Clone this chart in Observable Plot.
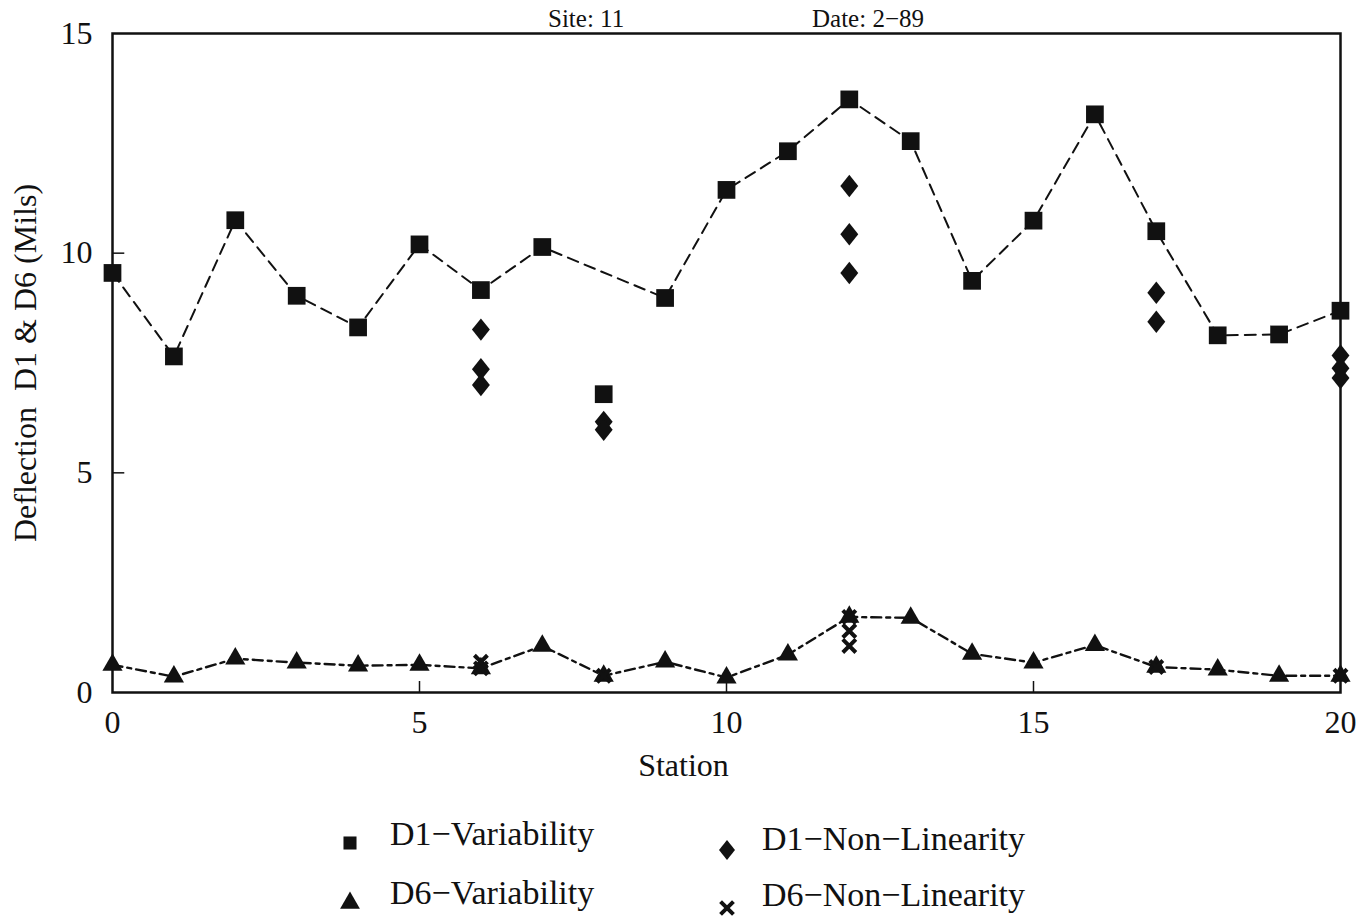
<!DOCTYPE html>
<html><head><meta charset="utf-8">
<script src="https://cdn.jsdelivr.net/npm/d3@7"></script>
<script src="https://cdn.jsdelivr.net/npm/@observablehq/plot@0.6"></script>
<style>
body{margin:0;background:#fff;}
#wrap{position:relative;width:1365px;height:919px;overflow:hidden;font-family:"Liberation Serif",serif;color:#111;}
#wrap svg{position:absolute;left:0;}
.ttl{position:absolute;top:5px;font-size:25px;line-height:1.1;white-space:nowrap;}
</style></head><body><div id="wrap"></div>
<script>
// ---- data ----
const stations = [0,1,2,3,4,5,6,7,8,9,10,11,12,13,14,15,16,17,18,19,20];
const d1Variability = [9.55,7.65,10.75,9.03,8.31,10.2,9.16,10.14,6.79,8.98,11.44,12.32,13.5,12.55,9.37,10.74,13.16,10.5,8.13,8.15,8.69];
const d1LineSkip = [8];            // station whose D1 point is not joined by the line
const d6Variability = [0.63,0.36,0.77,0.68,0.61,0.63,0.55,1.06,0.38,0.7,0.34,0.86,1.72,1.7,0.88,0.68,1.08,0.58,0.52,0.38,0.38];
const d1NonLinStation = [6,6,6,8,8,12,12,12,17,17,20,20,20];
const d1NonLinValue   = [8.26,7.36,7.0,6.16,5.98,11.53,10.43,9.55,9.1,8.44,7.67,7.38,7.16];
const d6NonLinStation = [6,6,8,12,12,12,17,20];
const d6NonLinValue   = [0.7,0.55,0.38,1.72,1.4,1.06,0.58,0.38];
const xTicks = [0,5,10,15,20];
const yTicks = [0,5,10,15];
const titleSite = "Site: 11";
const titleDate = "Date: 2\u221289";
const xLabel = "Station";
const yLabel = "Deflection\u00a0\u00a0D1 & D6 (Mils)";
const legendItems = [
  {label:"D1\u2212Variability", symbol:"square"},
  {label:"D1\u2212Non\u2212Linearity", symbol:"diamond"},
  {label:"D6\u2212Variability", symbol:"triangle"},
  {label:"D6\u2212Non\u2212Linearity", symbol:"times"}
];

// ---- tables ----
const d1Rows = stations.map((s,i)=>({station:s, value:d1Variability[i]}));
const d1LineRows = d1Rows.filter(d=>!d1LineSkip.includes(d.station));
const d6Rows = stations.map((s,i)=>({station:s, value:d6Variability[i]}));
const d1NL = d1NonLinStation.map((s,i)=>({station:s, value:d1NonLinValue[i]}));
const d6NL = d6NonLinStation.map((s,i)=>({station:s, value:d6NonLinValue[i]}));

// a rhombus a little wider than d3's diamond
const rhombus = {draw(ctx, size){ const b=Math.sqrt(size/1.6), a=0.8*b;
  ctx.moveTo(0,-b); ctx.lineTo(a,0); ctx.lineTo(0,b); ctx.lineTo(-a,0); ctx.closePath(); }};

const ink = "#111";
const chart = Plot.plot({
  width:1365, height:800,
  marginTop:33, marginBottom:108, marginLeft:112, marginRight:25,
  style:{fontFamily:"'Liberation Serif', serif", fontSize:"32px", color:ink, background:"transparent", overflow:"visible"},
  x:{domain:[0,20], label:null},
  y:{domain:[0,15], label:null},
  marks:[
    Plot.line(d1LineRows,{x:"station", y:"value", stroke:ink, strokeWidth:2, strokeDasharray:"11,7"}),
    Plot.line(d6Rows,{x:"station", y:"value", stroke:ink, strokeWidth:2.4, strokeDasharray:"10,5,4,5"}),
    Plot.ruleX(xTicks.slice(1,-1),{y1:0, y2:0.25, stroke:ink, strokeWidth:1.5}),
    Plot.ruleY(yTicks.slice(1,-1),{x1:0, x2:0.2, stroke:ink, strokeWidth:1.5}),
    Plot.frame({stroke:ink, strokeWidth:2.5}),
    Plot.axisX(xTicks,{tickSize:0, tickPadding:18, label:null, fontSize:32}),
    Plot.axisY(yTicks,{tickSize:0, tickPadding:20, label:null, fontSize:32}),
    Plot.text([xLabel],{text:d=>d, frameAnchor:"bottom", dx:-43, dy:83, fontSize:32}),
    Plot.text([yLabel],{text:d=>d, frameAnchor:"left", textAnchor:"middle", rotate:-90, dx:-87, fontSize:32}),
    Plot.dot(d6Rows,{x:"station", y:"value", symbol:"triangle", r:7.5, fill:ink}),
    Plot.dot(d1Rows,{x:"station", y:"value", symbol:"square", r:10, fill:ink}),
    Plot.dot(d1NL,{x:"station", y:"value", symbol:rhombus, r:8, fill:ink}),
    Plot.dot(d6NL,{x:"station", y:"value", symbol:"times", r:6, stroke:ink, strokeWidth:4})
  ]
});
chart.style.top = "0px";
const wrap = document.getElementById("wrap");
wrap.appendChild(chart);

// titles
[[titleSite,548],[titleDate,812]].forEach(([t,x])=>{
  const d=document.createElement("div"); d.className="ttl"; d.textContent=t; d.style.left=x+"px"; wrap.appendChild(d);
});

// legend
const symMap = {square:d3.symbolSquare, diamond:rhombus, triangle:d3.symbolTriangle, times:d3.symbolTimes};
const leg = d3.create("svg").attr("width",1365).attr("height",119).style("top","800px");
const pos = [[350,43,390,45],[727,50,762,50],[350,103,390,104],[727,108,762,106]];
legendItems.forEach((it,i)=>{
  const [sx,sy,tx,ty]=pos[i];
  const isTimes = it.symbol==="times";
  leg.append("path").attr("transform",`translate(${sx},${sy})`)
    .attr("d", d3.symbol(symMap[it.symbol], isTimes?110:(it.symbol==="diamond"?160:170))())
    .attr("fill", isTimes?"none":ink).attr("stroke", isTimes?ink:"none").attr("stroke-width",4);
  leg.append("text").attr("x",tx).attr("y",ty).attr("font-size",34)
    .attr("font-family","'Liberation Serif', serif").attr("fill",ink).text(it.label);
});
wrap.appendChild(leg.node());
</script>
</body></html>
